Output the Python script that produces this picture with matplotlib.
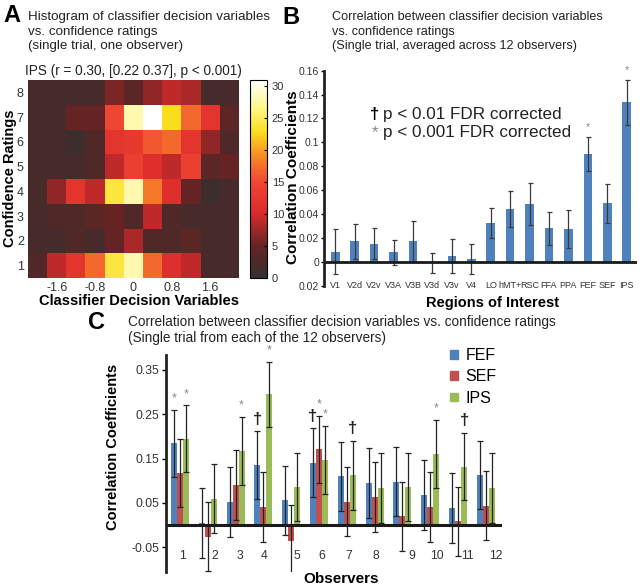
import numpy as np
import matplotlib
matplotlib.use("Agg")
import matplotlib.pyplot as plt
from matplotlib.colors import LinearSegmentedColormap
from matplotlib.patches import Patch

plt.rcParams['font.family'] = ['Liberation Sans', 'DejaVu Sans']

# ---- panel A : histogram, IPS, one observer
dv_bins = [-2.0, -1.6, -1.2, -0.8, -0.4, 0.0, 0.4, 0.8, 1.2, 1.6, 2.0]
ratings = [1, 2, 3, 4, 5, 6, 7, 8]
counts = [  # one row per rating, 1 -> 8
    [3, 9, 12, 17, 24, 28, 17, 11, 9, 2, 2],
    [2, 2, 3, 2, 5, 8, 3, 3, 4, 2, 2],
    [2, 3, 3, 4, 5, 3, 9, 3, 2, 2, 2],
    [2, 7, 12, 9, 24, 28, 18, 11, 5, 1, 2],
    [2, 2, 2, 3, 9, 14, 11, 9, 14, 4, 5],
    [2, 2, 1, 3, 12, 13, 16, 17, 12, 7, 3],
    [2, 2, 5, 5, 15, 28, 31, 23, 17, 12, 4],
    [2, 2, 2, 2, 6, 4, 7, 9, 8, 2, 2],
]
dv_ticks = [-1.6, -0.8, 0, 0.8, 1.6]
dv_ticklabels = ['-1.6', '-0.8', '0', '0.8', '1.6']

# ---- panel B : mean correlation per ROI
rois = ['V1', 'V2d', 'V2v', 'V3A', 'V3B', 'V3d', 'V3v', 'V4', 'LO', 'hMT+',
        'RSC', 'FFA', 'PPA', 'FEF', 'SEF', 'IPS']
roi_corr = [0.0084, 0.017, 0.015, 0.008, 0.017, -0.001, 0.0047, 0.0025,
            0.0324, 0.0441, 0.0483, 0.028, 0.0274, 0.0902, 0.049, 0.1335]
roi_err = [0.019, 0.015, 0.013, 0.0105, 0.017, 0.0085, 0.014, 0.0125,
           0.0125, 0.015, 0.0175, 0.014, 0.0156, 0.0145, 0.0165, 0.0187]
roi_sig = ['', '', '', '', '', '', '', '', '', '', '', '', '', '*', '', '*']
roi_yticks = [-0.02, 0, 0.02, 0.04, 0.06, 0.08, 0.1, 0.12, 0.14, 0.16]
roi_yticklabels = ['0.02', '0', '0.02', '0.04', '0.06', '0.08', '0.1', '0.12', '0.14', '0.16']

# ---- panel C : each observer, FEF / SEF / IPS
observers = [1, 2, 3, 4, 5, 6, 7, 8, 9, 10, 11, 12]
fef_corr = [0.184, 0.005, 0.052, 0.135, 0.056, 0.141, 0.110, 0.095, 0.098, 0.068, 0.039, 0.113]
fef_err = [0.076, 0.079, 0.079, 0.077, 0.078, 0.077, 0.077, 0.078, 0.078, 0.078, 0.078, 0.077]
sef_corr = [0.117, -0.026, 0.090, 0.041, -0.035, 0.171, 0.053, 0.063, 0.020, 0.041, 0.009, 0.044]
sef_err = [0.077, 0.078, 0.079, 0.078, 0.080, 0.076, 0.078, 0.079, 0.078, 0.078, 0.078, 0.078]
ips_corr = [0.195, 0.060, 0.167, 0.295, 0.086, 0.147, 0.112, 0.084, 0.086, 0.161, 0.132, 0.084]
ips_err = [0.075, 0.078, 0.077, 0.073, 0.077, 0.076, 0.078, 0.078, 0.077, 0.077, 0.076, 0.078]
fef_sig = ['*', '', '', '†', '', '†', '', '', '', '', '', '']
sef_sig = ['', '', '', '', '', '*', '', '', '', '', '', '']
ips_sig = ['*', '', '*', '*', '', '*', '†', '', '', '*', '†', '']
obs_label_shift = [0.1, 0.26, 0.16, 0.02, 0.19, 0.1, 0.08, 0.05, 0.33, 0.23, 0.33, 0.36]
c_yticks = [-0.05, 0.05, 0.15, 0.25, 0.35]
c_yticklabels = ['-0.05', '0.05', '0.15', '0.25', '0.35']

W, H = 640, 587
fig = plt.figure(figsize=(W / 100, H / 100), dpi=100)


def fx(px):
    return px / W


def fy(py):
    return 1 - py / H


tick_col = '#333333'
blue, red, green = '#4f81bd', '#c0504d', '#9bbb59'

# ---------------- A
cmap = LinearSegmentedColormap.from_list('hotgray', [
    (0.0, (0.2, 0.19, 0.19)),
    (0.16, (0.40, 0.14, 0.14)),
    (0.33, (0.86, 0.17, 0.17)),
    (0.48, (0.94, 0.27, 0.2)),
    (0.62, (0.97, 0.55, 0.15)),
    (0.74, (0.98, 0.87, 0.12)),
    (0.85, (1.0, 0.96, 0.5)),
    (1.0, (1.0, 1.0, 1.0)),
])
axA = fig.add_axes([fx(28), fy(278), fx(211), 198 / H])
step = dv_bins[1] - dv_bins[0]
im = axA.imshow(np.array(counts), cmap=cmap, vmin=0, vmax=31, aspect='auto', origin='lower',
                extent=[dv_bins[0] - step / 2, dv_bins[-1] + step / 2, ratings[0] - 0.5, ratings[-1] + 0.5],
                interpolation='nearest')
axA.set_xticks(dv_ticks)
axA.set_xticklabels(dv_ticklabels)
axA.set_yticks(ratings)
axA.tick_params(length=0, labelsize=9, labelcolor=tick_col, pad=3)
for s in axA.spines.values():
    s.set_visible(False)
axA.text(0.5, 1.012, 'IPS (r = 0.30, [0.22 0.37], p < 0.001)', transform=axA.transAxes,
         ha='center', va='bottom', fontsize=9.8, color='#222')

caxA = fig.add_axes([fx(250), fy(278), fx(17), 198 / H])
cb = fig.colorbar(im, cax=caxA, ticks=[0, 5, 10, 15, 20, 25, 30])
cb.outline.set_linewidth(0.8)
caxA.tick_params(labelsize=8, labelcolor=tick_col, length=2.5, direction='in')

fig.text(fx(3), fy(4), 'A', fontsize=17, fontweight='bold', va='top')
fig.text(fx(28), fy(11), 'Histogram of classifier decision variables\nvs. confidence ratings\n(single trial, one observer)',
         fontsize=9.6, va='top', linespacing=1.3, color='#222')
fig.text(fx(10), fy(178), 'Confidence Ratings', rotation=90, fontsize=10.5, fontweight='bold',
         ha='center', va='center')
fig.text(fx(139), fy(301), 'Classifier Decision Variables', fontsize=10.5, fontweight='bold',
         ha='center', va='center')

# ---------------- B
axB = fig.add_axes([fx(324), fy(285.6), fx(313), 214.9 / H])
xb = np.arange(len(rois))
axB.bar(xb, roi_corr, width=0.44, color=blue)
axB.errorbar(xb, roi_corr, yerr=roi_err, fmt='none', ecolor='#3a3a3a', elinewidth=0.9,
             capsize=1.8, capthick=0.9)
for i, s in enumerate(roi_sig):
    if s:
        axB.text(xb[i], roi_corr[i] + roi_err[i] + 0.004, s, ha='center', va='bottom',
                 fontsize=8, color='#888')
axB.axhline(0, color='#1a1a1a', lw=2)
axB.set_xlim(-0.58, 15.53)
axB.set_ylim(-0.02, 0.16)
axB.set_yticks(roi_yticks)
axB.set_yticklabels(roi_yticklabels)
axB.set_xticks([])
for i, r in enumerate(rois):
    axB.text(xb[i], -0.02, r, ha='center', va='center', fontsize=6.5, color=tick_col)
axB.tick_params(axis='y', labelsize=7.5, labelcolor=tick_col, length=2.5, width=1, pad=1)
for k in ['top', 'right', 'bottom']:
    axB.spines[k].set_visible(False)
axB.spines['left'].set_linewidth(2)
axB.spines['left'].set_color('#222')

fig.text(fx(282), fy(6), 'B', fontsize=17, fontweight='bold', va='top')
fig.text(fx(332), fy(11), 'Correlation between classifier decision variables\nvs. confidence ratings\n(Single trial, averaged across 12 observers)',
         fontsize=9.1, va='top', linespacing=1.3, color='#222')
fig.text(fx(293), fy(177), 'Correlation Coefficients', rotation=90, fontsize=11, fontweight='bold',
         ha='center', va='center')
fig.text(fx(492), fy(303), 'Regions of Interest', fontsize=10.5, fontweight='bold',
         ha='center', va='center')
fig.text(fx(375), fy(115), '†', fontsize=12, fontweight='bold', ha='center', va='center')
fig.text(fx(383), fy(115), 'p < 0.01 FDR corrected', fontsize=12.3, ha='left', va='center', color='#222')
fig.text(fx(375), fy(133), '*', fontsize=12, ha='center', va='center', color='#888')
fig.text(fx(383), fy(132), 'p < 0.001 FDR corrected', fontsize=12.3, ha='left', va='center', color='#222')

# ---------------- C
axC = fig.add_axes([fx(166), fy(572), fx(336), 217 / H])
xo = np.array(observers, dtype=float)
bw = 0.216
series = [(fef_corr, fef_err, fef_sig, blue, 'FEF', -bw),
          (sef_corr, sef_err, sef_sig, red, 'SEF', 0),
          (ips_corr, ips_err, ips_sig, green, 'IPS', bw)]
for vals, errs, sig, col, name, off in series:
    axC.bar(xo + off, vals, width=bw, color=col, label=name)
for vals, errs, sig, col, name, off in series:
    axC.errorbar(xo + off, vals, yerr=errs, fmt='none', ecolor='#222', elinewidth=0.9,
                 capsize=2.2, capthick=0.9)
    for i, s in enumerate(sig):
        top = vals[i] + errs[i]
        if s == '*':
            axC.text(xo[i] + off, top + 0.012, s, ha='center', va='bottom', fontsize=9, color='#888')
        elif s == '†':
            axC.text(xo[i] + off, top + 0.01, s, ha='center', va='bottom', fontsize=12,
                     fontweight='bold', color='#222')
axC.axhline(0, color='#1a1a1a', lw=2.2)
axC.set_xlim(0.496, 12.58)
axC.set_ylim(-0.1054, 0.3833)
axC.set_yticks(c_yticks)
axC.set_yticklabels(c_yticklabels)
axC.set_xticks([])
for i, o in enumerate(observers):
    axC.text(o + obs_label_shift[i], -0.07, str(o), ha='center', va='center', fontsize=8.8,
             color=tick_col)
axC.tick_params(axis='y', labelsize=8.8, labelcolor=tick_col, length=3, width=1, pad=2)
for k in ['top', 'right', 'bottom']:
    axC.spines[k].set_visible(False)
axC.spines['left'].set_linewidth(2)
axC.spines['left'].set_color('#222')
handles = [Patch(color=blue, label='FEF'), Patch(color=red, label='SEF'), Patch(color=green, label='IPS')]
fig.legend(handles=handles, loc='upper left', bbox_to_anchor=(fx(436), fy(334)), frameon=False,
           fontsize=11.5, handlelength=0.45, handleheight=0.45, handletextpad=0.5, labelspacing=0.38)

fig.text(fx(88), fy(311), 'C', fontsize=17, fontweight='bold', va='top')
fig.text(fx(128), fy(315), 'Correlation between classifier decision variables vs. confidence ratings\n(Single trial from each of the 12 observers)',
         fontsize=9.8, va='top', linespacing=1.2, color='#222')
fig.text(fx(113), fy(447), 'Correlation Coefficients', rotation=90, fontsize=10.5, fontweight='bold',
         ha='center', va='center')
fig.text(fx(341), fy(579), 'Observers', fontsize=11, fontweight='bold', ha='center', va='center')

fig.savefig('out.png', dpi=100)
